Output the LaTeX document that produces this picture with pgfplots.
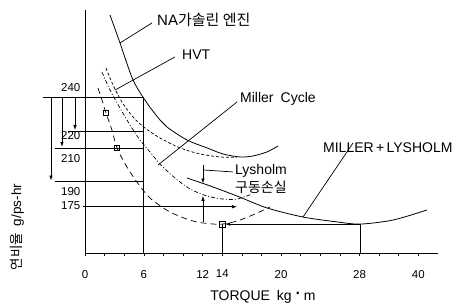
\documentclass[border=0pt]{standalone}
\usepackage{graphicx}
\usepackage{fontspec}
\setmainfont{Liberation Sans}
\newfontfamily\kr{Noto Sans CJK KR}
\usepackage{pgfplots}
\pgfplotsset{compat=1.18}
\usetikzlibrary{arrows.meta}
\begin{document}
\begin{tikzpicture}
\useasboundingbox (-85pt,-53pt) rectangle (377pt,253pt);
\begin{axis}[
  at={(0,0)}, anchor=south west,
  scale only axis, width=353pt, height=243pt,
  xmin=0, xmax=36, ymin=147.5, ymax=292,
  axis x line*=bottom, axis y line*=left,
  axis line style={line width=0.8pt, black},
  clip=false,
  xtick={0,2,...,34},
  xticklabels={0,,,6,,,12,14,,,20,,,,28,,,40},
  ytick={175,190,210,220,240},
  yticklabels={},
  tick align=outside, major tick length=2.5pt,
  tick style={line width=0.6pt, black},
  xticklabel style={font=\fontsize{11.5}{13}\selectfont, yshift=-11pt},
  xlabel={TORQUE\enspace kg\,\raisebox{0.1ex}{\scalebox{1.6}{·}}\,m},
  xlabel style={at={(axis description cs:0.504,-0.181)}, anchor=center, font=\fontsize{14}{16}\selectfont},
  ylabel={{\kr 연비율}\enspace g/ps-hr},
  ylabel style={at={(axis description cs:-0.193,0.107)}, anchor=center, font=\fontsize{13.5}{16}\selectfont},
]
% NA gasoline engine
\addplot[black, line width=0.8pt, smooth] coordinates {(2.55,289.0)(3.57,272.4)(4.90,250.4)(6.32,236.7)(7.65,226.6)(8.36,222.4)(10.40,214.7)(12.44,210)(14.07,206.4)(15.81,204.6)(17.13,205.2)(18.56,207.6)(19.68,211.1)};
% HVT
\addplot[black, line width=0.7pt, smooth, dash pattern=on 3pt off 2pt] coordinates {(2.14,257.5)(2.86,247.4)(3.77,237.3)(4.90,228.4)(6.12,221.8)(7.65,215.9)(9.69,210)(11.73,206.4)(13.77,204.6)(15.5,204.4)};
% Miller cycle
\addplot[black, line width=0.7pt, smooth, dash pattern=on 4pt off 2pt on 1pt off 2pt] coordinates {(1.73,255.1)(2.55,244.4)(3.57,233.7)(4.59,223.6)(5.61,214.7)(6.63,207.6)(7.65,200.4)(9.18,192.1)(10.71,185.6)(12.44,181.4)(14.07,179.6)(15.50,179.6)(17.03,182.6)};
% lowest dashed
\addplot[black, line width=0.7pt, smooth, dash pattern=on 6pt off 4pt] coordinates {(1.33,245.6)(1.73,238.5)(2.14,230.8)(2.75,220.6)(3.26,210)(4.28,198.6)(5.30,189.7)(6.63,180.2)(8.67,171.9)(11.01,166.5)(12.75,164.9)(14,164.7)(15.50,166.5)(17.34,170.7)(18.87,174.9)};
% MILLER + LYSHOLM
\addplot[black, line width=0.8pt, smooth] coordinates {(10.40,192.1)(12.75,187.4)(15.50,181.4)(18.56,174.3)(22.23,168.9)(25.70,166.0)(28.04,164.7)(31.41,167.1)(34.88,173.1)};
% horizontal levels
\addplot[black, line width=0.7pt] coordinates {(-4.28,240)(6,240)};
\addplot[black, line width=0.7pt] coordinates {(6,240)(6,147.5)};
\addplot[black, line width=0.7pt] coordinates {(-1.73,220)(6,220)};
\addplot[black, line width=0.7pt] coordinates {(-3.06,210)(6,210)};
\addplot[black, line width=0.7pt] coordinates {(-3.06,190)(6,190)};
\addplot[black, line width=0.7pt, -{Latex[length=5pt,width=3.5pt]}] coordinates {(0,175)(15.5,175)};
% level arrows
\addplot[black, line width=0.7pt, -{Latex[length=5pt,width=3.5pt]}] coordinates {(-1.02,240)(-1.02,220.6)};
\addplot[black, line width=0.7pt, -{Latex[length=5pt,width=3.5pt]}] coordinates {(-2.35,240)(-2.35,210.6)};
\addplot[black, line width=0.7pt, -{Latex[length=5pt,width=3.5pt]}] coordinates {(-3.47,240)(-3.47,190.6)};
% Lysholm bracket
\addplot[black, line width=0.7pt, -{Latex[length=5pt,width=3.5pt]}] coordinates {(12.03,199.8)(12.03,188.8)};
\addplot[black, line width=0.7pt, -{Latex[length=5pt,width=3.5pt]}] coordinates {(12.03,165.9)(12.03,181.5)};
% operating points
\addplot[black, line width=0.7pt] coordinates {(14,164.7)(14,147.5)};
\addplot[black, line width=0.7pt] coordinates {(28.04,164.7)(28.04,147.5)};
\addplot[black, line width=0.7pt, -{Latex[length=5pt,width=3.5pt]}] coordinates {(28.04,164.7)(14.3,164.7)};
\addplot[black, only marks, mark=square, mark size=2.8pt, mark options={line width=0.7pt}] coordinates {(2.14,230.8)(3.26,210)(14,164.7)};
% leader lines
\addplot[black, line width=0.7pt] coordinates {(6.83,284.3)(3.57,272.4)};
\addplot[black, line width=0.7pt] coordinates {(9.18,264.1)(3.06,244.4)};
\addplot[black, line width=0.7pt] coordinates {(15.50,237.3)(7.44,199.8)};
\addplot[black, line width=0.7pt] coordinates {(15.09,195.7)(12.03,196.9)};
\addplot[black, line width=0.7pt] coordinates {(27.33,212.9)(22.23,168.9)};
% y tick labels
\begin{scope}[every node/.style={anchor=east, font=\fontsize{11.5}{13}\selectfont, inner sep=0pt}]
\node at (axis cs:-0.45,245.6) {240};
\node at (axis cs:-0.45,217.1) {220};
\node at (axis cs:-0.45,203.4) {210};
\node at (axis cs:-0.45,183.8) {190};
\node at (axis cs:-0.45,175.5) {175};
\end{scope}
% labels
\begin{scope}[every node/.style={anchor=west, font=\fontsize{14}{16}\selectfont, inner sep=0pt}]
\node[font=\fontsize{15}{17}\selectfont] at (axis cs:7.34,286.05) {NA{\kr 가솔린 엔진}};
\node at (axis cs:9.89,265.2) {HVT};
\node at (axis cs:15.81,239.1) {Miller\enspace Cycle};
\node at (axis cs:15.3,196.3) {Lysholm};
\node at (axis cs:15.3,186.75) {{\kr 구동손실}};
\node at (axis cs:24.27,209.9) {MILLER\,+\,LYSHOLM};
\end{scope}
\end{axis}
\end{tikzpicture}
\end{document}
